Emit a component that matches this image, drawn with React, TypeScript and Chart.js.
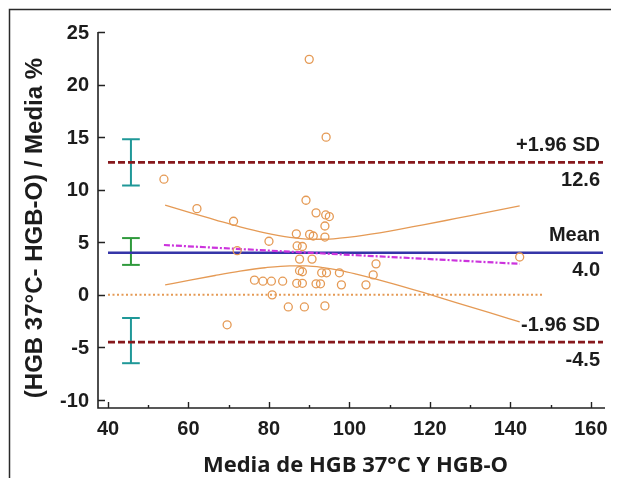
import React, { useEffect, useRef } from 'react';
import { Chart, registerables } from 'chart.js';

Chart.register(...registerables);

// Mean of the two methods (x) and percentage difference (y) for each sample
const meanX = [
  53.9, 62.1, 71.2, 69.6, 72.1, 76.4, 78.5, 80.6, 83.4, 80.0, 80.8, 84.8,
  86.8, 87.0, 87.6, 87.6, 88.3, 86.9, 88.3, 88.8, 89.2, 90.0, 90.1, 88.3,
  90.7, 91.0, 91.7, 91.7, 92.8, 93.1, 93.9, 93.9, 94.1, 95.0, 94.2, 94.3,
  93.9, 97.5, 98.0, 104.1, 105.9, 106.6, 142.3,
];
const diffPct = [
  11.0, 8.2, 7.0, -2.85, 4.2, 1.4, 1.3, 1.3, 1.3, 5.1, 0.0, -1.15,
  5.8, 4.65, 3.4, 2.3, 2.2, 1.1, 1.1, -1.15, 9.0, 22.4, 5.75, 4.6,
  3.4, 5.6, 7.8, 1.05, 1.05, 2.1, 5.5, 6.55, 7.6, 7.45, 15.0, 2.1,
  -1.05, 2.1, 0.95, 0.95, 1.9, 2.95, 3.6,
];

// Mean difference and limits of agreement
const MEAN_DIFF = 4.0;
const UPPER_LOA = 12.6;
const LOWER_LOA = -4.5;

// 95% confidence intervals of the mean and of the limits
const CI_BAR_X = 45.7;
const CI_CAP_HALF = 2.2;
const upperLoaCI = [10.4, 14.8];
const meanCI = [2.85, 5.4];
const lowerLoaCI = [-6.5, -2.2];

// Regression of the differences on the means, with its 95% band
const regX = [53.9, 142.3];
const regY = [4.74, 2.95];
const bandX = [54.2, 60.4, 66.6, 72.8, 79.0, 85.2, 89.3, 93.5, 97.6, 101.7, 110.0, 118.3, 126.5, 134.8, 142.3];
const bandUpper = [8.54, 7.82, 7.14, 6.47, 5.9, 5.46, 5.31, 5.29, 5.39, 5.57, 6.07, 6.65, 7.27, 7.9, 8.46];
const bandLower = [0.94, 1.4, 1.84, 2.25, 2.58, 2.76, 2.75, 2.59, 2.33, 1.97, 1.15, 0.23, -0.73, -1.7, -2.56];

// Zero line extent
const zeroLineX = [40, 148.2];

// Axes
const X_MIN = 40;
const X_MAX = 163.5;
const Y_MIN = -10;
const Y_MAX = 25;
const xTicks = [40, 60, 80, 100, 120, 140, 160];
const xMinorTicks = [50, 70, 90, 110, 130, 150];
const yTicks = [-10, -5, 0, 5, 10, 15, 20, 25];

const X_TITLE = 'Media de HGB 37°C Y HGB-O';
const Y_TITLE = '(HGB 37°C- HGB-O) / Media %';

const ORANGE = '#e59a55';
const DARK_RED = '#86181c';
const NAVY = '#3535a8';
const MAGENTA = '#cc33dd';
const TEAL = '#1f9898';
const GREEN = '#2f9a3c';
const TEXT = '#1c1c1c';
const BOLD = 'bold 20px "Liberation Sans", Arial, sans-serif';

function segment(x1: number, y1: number, x2: number, y2: number, color: string, width: number) {
  return {
    data: [{ x: x1, y: y1 }, { x: x2, y: y2 }],
    showLine: true,
    borderColor: color,
    borderWidth: width,
    pointRadius: 0,
    fill: false,
  };
}

function ciBar(range: number[], color: string) {
  return [
    segment(CI_BAR_X, range[0], CI_BAR_X, range[1], color, 2),
    segment(CI_BAR_X - CI_CAP_HALF, range[0], CI_BAR_X + CI_CAP_HALF, range[0], color, 2),
    segment(CI_BAR_X - CI_CAP_HALF, range[1], CI_BAR_X + CI_CAP_HALF, range[1], color, 2),
  ];
}

const axesPlugin = {
  id: 'baAxes',
  afterDraw(chart: any) {
    const { ctx } = chart;
    const xs = chart.scales.x;
    const ys = chart.scales.y;
    ctx.save();

    // outer frame
    ctx.strokeStyle = '#2a2a2a';
    ctx.lineWidth = 1.5;
    ctx.beginPath();
    ctx.moveTo(1.5, chart.height);
    ctx.lineTo(1.5, 1.5);
    ctx.lineTo(chart.width, 1.5);
    ctx.stroke();

    // offset axis lines
    const axisLeft = xs.left - 10;
    const axisBottom = ys.bottom + 8;
    ctx.strokeStyle = '#222';
    ctx.lineWidth = 1.6;
    ctx.beginPath();
    ctx.moveTo(axisLeft, ys.getPixelForValue(Y_MAX));
    ctx.lineTo(axisLeft, axisBottom);
    ctx.lineTo(xs.getPixelForValue(X_MAX), axisBottom);
    ctx.stroke();

    // inward ticks
    ctx.lineWidth = 1.4;
    ctx.beginPath();
    yTicks.forEach((v) => {
      const py = Math.round(ys.getPixelForValue(v)) + 0.5;
      ctx.moveTo(axisLeft, py);
      ctx.lineTo(axisLeft + 7, py);
    });
    xTicks.forEach((v) => {
      const px = Math.round(xs.getPixelForValue(v)) + 0.5;
      ctx.moveTo(px, axisBottom);
      ctx.lineTo(px, axisBottom - 6);
    });
    xMinorTicks.forEach((v) => {
      const px = Math.round(xs.getPixelForValue(v)) + 0.5;
      ctx.moveTo(px, axisBottom);
      ctx.lineTo(px, axisBottom - 3);
    });
    ctx.stroke();

    // tick labels
    ctx.fillStyle = TEXT;
    ctx.font = BOLD;
    ctx.textAlign = 'right';
    ctx.textBaseline = 'middle';
    yTicks.forEach((v) => {
      ctx.fillText(String(v), axisLeft - 9, ys.getPixelForValue(v) + 1);
    });
    ctx.textAlign = 'center';
    xTicks.forEach((v) => {
      ctx.fillText(String(v), xs.getPixelForValue(v), axisBottom + 21);
    });

    // axis titles
    ctx.font = 'bold 22px "Open Sans", "Noto Sans", sans-serif';
    ctx.fillText(X_TITLE, (axisLeft + xs.right) / 2 + 4, axisBottom + 58);

    ctx.save();
    ctx.translate(27, (ys.top + ys.bottom) / 2 + 12);
    ctx.rotate(-Math.PI / 2);
    ctx.font = 'bold 24px "Liberation Sans", Arial, sans-serif';
    ctx.fillText(Y_TITLE, 0, 0);
    ctx.restore();

    // labels of the mean and limits of agreement
    ctx.font = BOLD;
    ctx.textAlign = 'right';
    const rx = xs.right - 5;
    const lines: [string, number][] = [
      ['+1.96 SD', UPPER_LOA],
      ['Mean', MEAN_DIFF],
      ['-1.96 SD', LOWER_LOA],
    ];
    lines.forEach(([name, v]) => {
      const py = ys.getPixelForValue(v);
      ctx.fillText(name, rx, py - 17);
      ctx.fillText(v.toFixed(1), rx, py + 18);
    });

    ctx.restore();
  },
};

export default function App() {
  const canvasRef = useRef<HTMLCanvasElement | null>(null);

  useEffect(() => {
    const canvas = canvasRef.current;
    if (!canvas) return;

    const points = meanX.map((x, i) => ({ x, y: diffPct[i] }));

    const datasets: any[] = [
      {
        data: points,
        showLine: false,
        pointRadius: 4,
        pointStyle: 'circle',
        pointBorderColor: ORANGE,
        pointBackgroundColor: 'rgba(255,255,255,0)',
        pointBorderWidth: 1.3,
      },
      {
        ...segment(regX[0], regY[0], regX[1], regY[1], MAGENTA, 2.2),
        borderDash: [6, 2, 2, 2],
      },
      {
        data: bandX.map((x, i) => ({ x, y: bandUpper[i] })),
        showLine: true,
        borderColor: ORANGE,
        borderWidth: 1.3,
        pointRadius: 0,
        cubicInterpolationMode: 'monotone',
      },
      {
        data: bandX.map((x, i) => ({ x, y: bandLower[i] })),
        showLine: true,
        borderColor: ORANGE,
        borderWidth: 1.3,
        pointRadius: 0,
        cubicInterpolationMode: 'monotone',
      },
      segment(X_MIN, MEAN_DIFF, X_MAX - 0.5, MEAN_DIFF, NAVY, 2.4),
      {
        ...segment(X_MIN, UPPER_LOA, X_MAX - 0.5, UPPER_LOA, DARK_RED, 2.6),
        borderDash: [7, 3],
      },
      {
        ...segment(X_MIN, LOWER_LOA, X_MAX - 0.5, LOWER_LOA, DARK_RED, 2.6),
        borderDash: [7, 3],
      },
      {
        ...segment(zeroLineX[0], 0, zeroLineX[1], 0, ORANGE, 2),
        borderDash: [2, 2.5],
      },
      ...ciBar(upperLoaCI, TEAL),
      ...ciBar(meanCI, GREEN),
      ...ciBar(lowerLoaCI, TEAL),
    ];
    datasets.forEach((d) => (d.clip = false));

    const chart = new Chart(canvas, {
      type: 'scatter',
      data: { datasets },
      options: {
        animation: false,
        responsive: false,
        events: [],
        layout: { padding: { left: 100, right: 14, top: 24, bottom: 78 } },
        plugins: { legend: { display: false }, tooltip: { enabled: false } },
        scales: {
          x: { type: 'linear', min: X_MIN, max: X_MAX, display: false },
          y: { type: 'linear', min: Y_MIN, max: Y_MAX, display: false },
        },
      },
      plugins: [axesPlugin],
    });

    return () => chart.destroy();
  }, []);

  return (
    <div style={{ position: 'relative', width: 611, height: 470 }}>
      <canvas ref={canvasRef} width={611} height={470} style={{ display: 'block' }} />
    </div>
  );
}
